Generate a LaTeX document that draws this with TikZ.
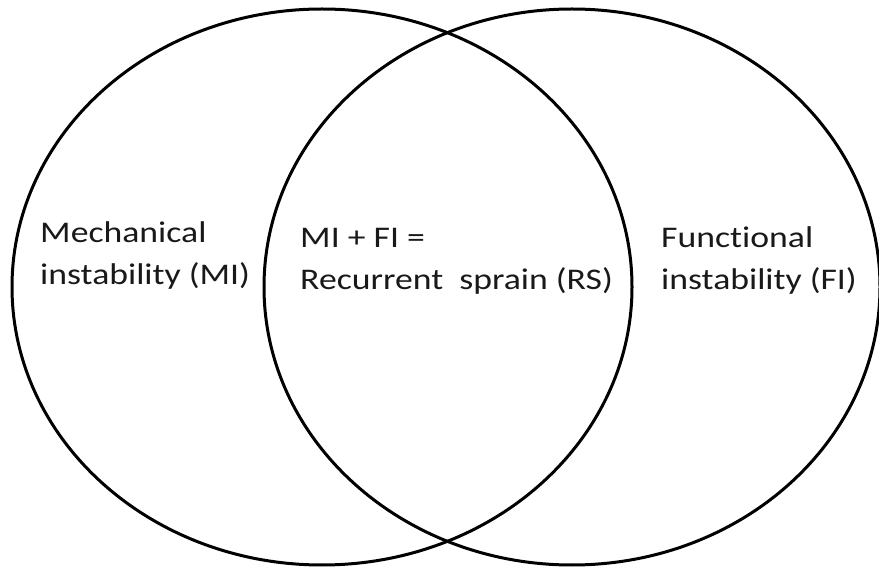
\documentclass[tikz,border=0pt]{standalone}
\usepackage{fontspec}
\setmainfont{Carlito}[Ligatures=NoCommon]
\usetikzlibrary{shapes.geometric}
\begin{document}
\begin{tikzpicture}[x=1pt,y=1pt,
  ring/.style={draw=black,line width=3pt,ellipse,inner sep=0pt,outer sep=0pt},
  lbl/.style={anchor=base west,inner sep=0pt,align=left,xscale=1.19,transform shape,
    font=\fontsize{30}{42}\selectfont,text=black!90}]
\useasboundingbox (0,0) rectangle (879,571);
\node[ring,minimum width=620pt,minimum height=556pt] (L) at (322,284) {};
\node[ring,minimum width=616pt,minimum height=556pt] (R) at (572,284) {};
\node[lbl] (mi) at (40,286) {Mechanical\\instability (MI)};
\node[lbl] (rs) at (300,281) {MI + FI =\\Recurrent~ sprain (RS)};
\node[lbl] (fi) at (661,281) {Functional\\instability (FI)};
\end{tikzpicture}
\end{document}
